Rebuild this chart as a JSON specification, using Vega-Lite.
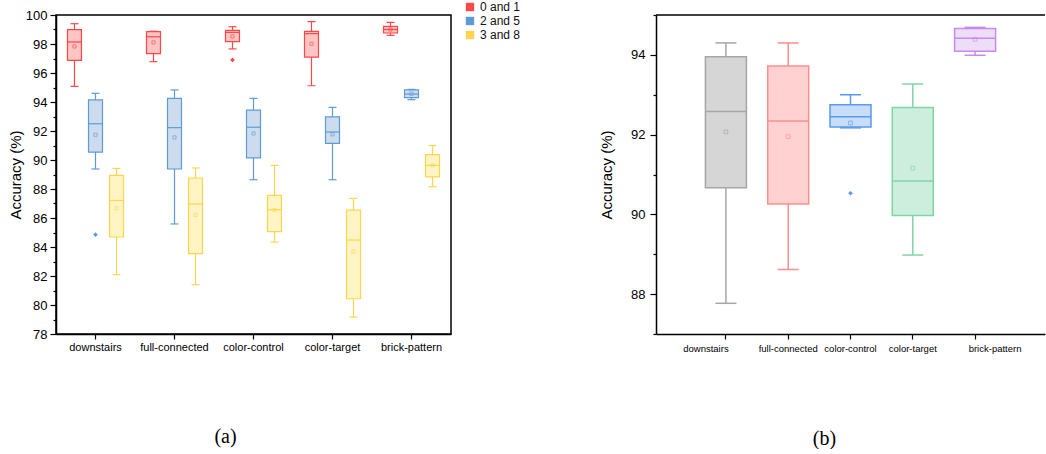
{
  "$schema": "https://vega.github.io/schema/vega-lite/v6.json",
  "padding": {"left": 7, "top": 0, "right": 0, "bottom": 0},
  "spacing": 77,
  "resolve": {"scale": {"color": "independent", "fill": "independent", "stroke": "independent", "x": "independent", "y": "independent"}},
  "config": {
    "font": "Liberation Sans",
    "view": {"stroke": null},
    "axis": {"domainColor": "#000", "domainWidth": 1.5, "tickColor": "#000", "tickWidth": 1.2, "labelColor": "#000", "titleColor": "#000", "grid": false, "titleFontWeight": "normal", "labelOverlap": false}
  },
  "datasets": {
    "a": [
      {"category": "downstairs", "pair": "0 and 1", "min": 95.08, "q1": 96.87, "median": 98.14, "q3": 98.99, "max": 99.4, "mean": 97.83},
      {"category": "downstairs", "pair": "2 and 5", "min": 89.38, "q1": 90.55, "median": 92.5, "q3": 94.14, "max": 94.6, "mean": 91.74},
      {"category": "downstairs", "pair": "3 and 8", "min": 82.09, "q1": 84.69, "median": 87.21, "q3": 88.94, "max": 89.42, "mean": 86.66},
      {"category": "full-connected", "pair": "0 and 1", "min": 96.78, "q1": 97.33, "median": 98.5, "q3": 98.85, "max": 98.88, "mean": 98.11},
      {"category": "full-connected", "pair": "2 and 5", "min": 85.59, "q1": 89.38, "median": 92.23, "q3": 94.25, "max": 94.83, "mean": 91.56},
      {"category": "full-connected", "pair": "3 and 8", "min": 81.4, "q1": 83.54, "median": 86.97, "q3": 88.76, "max": 89.45, "mean": 86.21},
      {"category": "color-control", "pair": "0 and 1", "min": 97.66, "q1": 98.16, "median": 98.8, "q3": 98.94, "max": 99.19, "mean": 98.52},
      {"category": "color-control", "pair": "2 and 5", "min": 88.64, "q1": 90.15, "median": 92.26, "q3": 93.44, "max": 94.25, "mean": 91.83},
      {"category": "color-control", "pair": "3 and 8", "min": 84.34, "q1": 85.06, "median": 86.57, "q3": 87.56, "max": 89.63, "mean": 86.55},
      {"category": "color-target", "pair": "0 and 1", "min": 95.12, "q1": 97.1, "median": 98.71, "q3": 98.87, "max": 99.54, "mean": 98.02},
      {"category": "color-target", "pair": "2 and 5", "min": 88.64, "q1": 91.14, "median": 91.93, "q3": 92.97, "max": 93.63, "mean": 91.77},
      {"category": "color-target", "pair": "3 and 8", "min": 79.17, "q1": 80.43, "median": 84.48, "q3": 86.55, "max": 87.35, "mean": 83.7},
      {"category": "brick-pattern", "pair": "0 and 1", "min": 98.6, "q1": 98.76, "median": 99.0, "q3": 99.21, "max": 99.49, "mean": 99.0},
      {"category": "brick-pattern", "pair": "2 and 5", "min": 94.16, "q1": 94.3, "median": 94.55, "q3": 94.83, "max": 94.87, "mean": 94.57},
      {"category": "brick-pattern", "pair": "3 and 8", "min": 88.16, "q1": 88.83, "median": 89.63, "q3": 90.37, "max": 91.0, "mean": 89.63}
    ],
    "a_out": [
      {"category": "downstairs", "pair": "2 and 5", "value": 84.85},
      {"category": "color-control", "pair": "0 and 1", "value": 96.9}
    ],
    "b": [
      {"category": "downstairs", "min": 87.77, "q1": 90.67, "median": 92.58, "q3": 93.95, "max": 94.3, "mean": 92.07},
      {"category": "full-connected", "min": 88.62, "q1": 90.26, "median": 92.34, "q3": 93.72, "max": 94.3, "mean": 91.95},
      {"category": "color-control", "min": 92.17, "q1": 92.19, "median": 92.45, "q3": 92.75, "max": 93.0, "mean": 92.29},
      {"category": "color-target", "min": 88.98, "q1": 89.97, "median": 90.84, "q3": 92.68, "max": 93.27, "mean": 91.16},
      {"category": "brick-pattern", "min": 93.99, "q1": 94.09, "median": 94.42, "q3": 94.66, "max": 94.69, "mean": 94.39}
    ],
    "b_out": [
      {"category": "color-control", "value": 90.53}
    ]
  },
  "hconcat": [
    {
      "width": 395,
      "height": 319,
      "view": {"stroke": "#000", "strokeWidth": 1.5},
      "title": {"text": "(a)", "orient": "bottom", "anchor": "middle", "font": "Liberation Serif", "fontSize": 20, "fontWeight": "normal", "color": "#000", "offset": 75, "dx": -28},
      "data": {"name": "a"},
      "encoding": {
        "x": {"field": "category", "type": "nominal", "sort": ["downstairs", "full-connected", "color-control", "color-target", "brick-pattern"], "scale": {"paddingInner": 0, "paddingOuter": 0}, "axis": {"title": null, "labelAngle": 0, "labelFontSize": 11, "tickSize": 5, "labelPadding": 2}},
        "xOffset": {"field": "pair", "type": "nominal", "sort": ["0 and 1", "2 and 5", "3 and 8"], "scale": {"paddingInner": 0, "paddingOuter": 0.38}}
      },
      "layer": [
        {
          "mark": {"type": "rule", "strokeWidth": 1.2},
          "encoding": {
            "y": {"field": "min", "type": "quantitative", "title": "Accuracy (%)", "scale": {"domain": [78, 100], "nice": false, "zero": false},
              "axis": {"values": [78, 79, 80, 81, 82, 83, 84, 85, 86, 87, 88, 89, 90, 91, 92, 93, 94, 95, 96, 97, 98, 99, 100], "labelOverlap": false, "labelExpr": "datum.value % 2 === 0 ? datum.label : ''", "tickSize": {"condition": {"test": "datum.value % 2 !== 0", "value": 3}, "value": 6}, "labelFontSize": 13, "titleFontSize": 15, "labelPadding": 3, "titlePadding": 2}},
            "y2": {"field": "max"},
            "stroke": {"field": "pair", "type": "nominal", "scale": {"domain": ["0 and 1", "2 and 5", "3 and 8"], "range": ["#FF4747", "#5E9BD4", "#FFD54F"]}, "legend": null}
          }
        },
        {
          "mark": {"type": "bar", "size": 14, "strokeWidth": 1.2},
          "encoding": {
            "y": {"field": "q1", "type": "quantitative", "title": "Accuracy (%)", "scale": {"domain": [78, 100], "nice": false, "zero": false},
              "axis": {"values": [78, 79, 80, 81, 82, 83, 84, 85, 86, 87, 88, 89, 90, 91, 92, 93, 94, 95, 96, 97, 98, 99, 100], "labelOverlap": false, "labelExpr": "datum.value % 2 === 0 ? datum.label : ''", "tickSize": {"condition": {"test": "datum.value % 2 !== 0", "value": 3}, "value": 6}, "labelFontSize": 13, "titleFontSize": 15, "labelPadding": 3, "titlePadding": 2}},
            "y2": {"field": "q3"},
            "fill": {"field": "pair", "type": "nominal", "scale": {"domain": ["0 and 1", "2 and 5", "3 and 8"], "range": ["#FFC4C4", "#CCDCEE", "#FFF4C4"]}, "legend": null},
            "stroke": {"field": "pair", "type": "nominal", "scale": {"domain": ["0 and 1", "2 and 5", "3 and 8"], "range": ["#FF4747", "#5E9BD4", "#FFD54F"]}, "legend": null}
          }
        },
        {
          "mark": {"type": "tick", "size": 8, "thickness": 1.2, "opacity": 1},
          "encoding": {
            "y": {"field": "max", "type": "quantitative", "title": "Accuracy (%)", "scale": {"domain": [78, 100], "nice": false, "zero": false},
              "axis": {"values": [78, 79, 80, 81, 82, 83, 84, 85, 86, 87, 88, 89, 90, 91, 92, 93, 94, 95, 96, 97, 98, 99, 100], "labelOverlap": false, "labelExpr": "datum.value % 2 === 0 ? datum.label : ''", "tickSize": {"condition": {"test": "datum.value % 2 !== 0", "value": 3}, "value": 6}, "labelFontSize": 13, "titleFontSize": 15, "labelPadding": 3, "titlePadding": 2}},
            "color": {"field": "pair", "type": "nominal", "sort": ["0 and 1", "2 and 5", "3 and 8"], "scale": {"range": ["#FF4747", "#5E9BD4", "#FFD54F"]}, "legend": {"title": null, "orient": "none", "legendX": 408, "legendY": -14, "symbolType": "square", "symbolSize": 70, "labelFontSize": 12, "rowPadding": 2, "symbolStrokeWidth": 0, "labelColor": "#111", "symbolOpacity": 1}}
          }
        },
        {
          "mark": {"type": "tick", "size": 8, "thickness": 1.2, "opacity": 1},
          "encoding": {
            "y": {"field": "min", "type": "quantitative", "title": "Accuracy (%)", "scale": {"domain": [78, 100], "nice": false, "zero": false},
              "axis": {"values": [78, 79, 80, 81, 82, 83, 84, 85, 86, 87, 88, 89, 90, 91, 92, 93, 94, 95, 96, 97, 98, 99, 100], "labelOverlap": false, "labelExpr": "datum.value % 2 === 0 ? datum.label : ''", "tickSize": {"condition": {"test": "datum.value % 2 !== 0", "value": 3}, "value": 6}, "labelFontSize": 13, "titleFontSize": 15, "labelPadding": 3, "titlePadding": 2}},
            "color": {"field": "pair", "type": "nominal", "sort": ["0 and 1", "2 and 5", "3 and 8"], "scale": {"range": ["#FF4747", "#5E9BD4", "#FFD54F"]}, "legend": {"title": null, "orient": "none", "legendX": 408, "legendY": -14, "symbolType": "square", "symbolSize": 70, "labelFontSize": 12, "rowPadding": 2, "symbolStrokeWidth": 0, "labelColor": "#111", "symbolOpacity": 1}}
          }
        },
        {
          "mark": {"type": "tick", "size": 14, "thickness": 1.2, "opacity": 1},
          "encoding": {
            "y": {"field": "median", "type": "quantitative", "title": "Accuracy (%)", "scale": {"domain": [78, 100], "nice": false, "zero": false},
              "axis": {"values": [78, 79, 80, 81, 82, 83, 84, 85, 86, 87, 88, 89, 90, 91, 92, 93, 94, 95, 96, 97, 98, 99, 100], "labelOverlap": false, "labelExpr": "datum.value % 2 === 0 ? datum.label : ''", "tickSize": {"condition": {"test": "datum.value % 2 !== 0", "value": 3}, "value": 6}, "labelFontSize": 13, "titleFontSize": 15, "labelPadding": 3, "titlePadding": 2}},
            "color": {"field": "pair", "type": "nominal", "sort": ["0 and 1", "2 and 5", "3 and 8"], "scale": {"range": ["#FF4747", "#5E9BD4", "#FFD54F"]}, "legend": {"title": null, "orient": "none", "legendX": 408, "legendY": -14, "symbolType": "square", "symbolSize": 70, "labelFontSize": 12, "rowPadding": 2, "symbolStrokeWidth": 0, "labelColor": "#111", "symbolOpacity": 1}}
          }
        },
        {
          "mark": {"type": "point", "shape": "square", "filled": false, "size": 10, "strokeWidth": 0.8, "opacity": 0.8},
          "encoding": {
            "y": {"field": "mean", "type": "quantitative", "title": "Accuracy (%)", "scale": {"domain": [78, 100], "nice": false, "zero": false},
              "axis": {"values": [78, 79, 80, 81, 82, 83, 84, 85, 86, 87, 88, 89, 90, 91, 92, 93, 94, 95, 96, 97, 98, 99, 100], "labelOverlap": false, "labelExpr": "datum.value % 2 === 0 ? datum.label : ''", "tickSize": {"condition": {"test": "datum.value % 2 !== 0", "value": 3}, "value": 6}, "labelFontSize": 13, "titleFontSize": 15, "labelPadding": 3, "titlePadding": 2}},
            "stroke": {"field": "pair", "type": "nominal", "scale": {"domain": ["0 and 1", "2 and 5", "3 and 8"], "range": ["#FF4747", "#5E9BD4", "#FFD54F"]}, "legend": null}
          }
        },
        {
          "data": {"name": "a_out"},
          "mark": {"type": "point", "shape": "diamond", "filled": true, "size": 22, "opacity": 1},
          "encoding": {
            "y": {"field": "value", "type": "quantitative", "title": "Accuracy (%)", "scale": {"domain": [78, 100], "nice": false, "zero": false},
              "axis": {"values": [78, 79, 80, 81, 82, 83, 84, 85, 86, 87, 88, 89, 90, 91, 92, 93, 94, 95, 96, 97, 98, 99, 100], "labelOverlap": false, "labelExpr": "datum.value % 2 === 0 ? datum.label : ''", "tickSize": {"condition": {"test": "datum.value % 2 !== 0", "value": 3}, "value": 6}, "labelFontSize": 13, "titleFontSize": 15, "labelPadding": 3, "titlePadding": 2}},
            "color": {"field": "pair", "type": "nominal", "sort": ["0 and 1", "2 and 5", "3 and 8"], "scale": {"range": ["#FF4747", "#5E9BD4", "#FFD54F"]}, "legend": {"title": null, "orient": "none", "legendX": 408, "legendY": -14, "symbolType": "square", "symbolSize": 70, "labelFontSize": 12, "rowPadding": 2, "symbolStrokeWidth": 0, "labelColor": "#111", "symbolOpacity": 1}}
          }
        }
      ]
    },
    {
      "width": 389,
      "height": 319,
      "title": {"text": "(b)", "orient": "bottom", "anchor": "middle", "font": "Liberation Serif", "fontSize": 20, "fontWeight": "normal", "color": "#000", "offset": 76, "dx": -26},
      "layer": [
        {
          "data": {"name": "b"},
          "encoding": {
            "x": {"field": "category", "type": "nominal", "sort": ["downstairs", "full-connected", "color-control", "color-target", "brick-pattern"], "scale": {"paddingInner": 0, "paddingOuter": 0.6225},
              "axis": {"title": null, "labelAngle": 0, "labelFontSize": 9.5, "tickSize": 5, "labelPadding": 4, "labelOffset": {"condition": [{"test": "datum.value === 'downstairs'", "value": -20}, {"test": "datum.value === 'brick-pattern'", "value": 20}], "value": 0}}}
          },
          "layer": [
            {
              "mark": {"type": "rule", "strokeWidth": 1.5},
              "encoding": {
                "y": {"field": "min", "type": "quantitative", "title": "Accuracy (%)", "scale": {"domain": [87, 95], "nice": false, "zero": false},
                  "axis": {"values": [87, 88, 89, 90, 91, 92, 93, 94, 95], "labelOverlap": false, "labelExpr": "datum.value % 2 === 0 ? datum.label : ''", "tickSize": {"condition": {"test": "datum.value % 2 !== 0", "value": 3}, "value": 6}, "labelFontSize": 13, "titleFontSize": 15, "labelPadding": 5, "titlePadding": 16}},
                "y2": {"field": "max"},
                "stroke": {"field": "category", "type": "nominal", "scale": {"domain": ["downstairs", "full-connected", "color-control", "color-target", "brick-pattern"], "range": ["#A6A6A6", "#FF8E8E", "#5A9BEB", "#7FD6A4", "#C98AEB"]}, "legend": null}
              }
            },
            {
              "mark": {"type": "bar", "size": 41, "strokeWidth": 1.5},
              "encoding": {
                "y": {"field": "q1", "type": "quantitative", "title": "Accuracy (%)", "scale": {"domain": [87, 95], "nice": false, "zero": false},
                  "axis": {"values": [87, 88, 89, 90, 91, 92, 93, 94, 95], "labelOverlap": false, "labelExpr": "datum.value % 2 === 0 ? datum.label : ''", "tickSize": {"condition": {"test": "datum.value % 2 !== 0", "value": 3}, "value": 6}, "labelFontSize": 13, "titleFontSize": 15, "labelPadding": 5, "titlePadding": 16}},
                "y2": {"field": "q3"},
                "fill": {"field": "category", "type": "nominal", "scale": {"domain": ["downstairs", "full-connected", "color-control", "color-target", "brick-pattern"], "range": ["#D6D6D6", "#FFD1D1", "#C8DDFA", "#CDEEDD", "#EEDDF7"]}, "legend": null},
                "stroke": {"field": "category", "type": "nominal", "scale": {"domain": ["downstairs", "full-connected", "color-control", "color-target", "brick-pattern"], "range": ["#A6A6A6", "#FF8E8E", "#5A9BEB", "#7FD6A4", "#C98AEB"]}, "legend": null}
              }
            },
            {
              "mark": {"type": "tick", "size": 21, "thickness": 1.5, "opacity": 1},
              "encoding": {
                "y": {"field": "max", "type": "quantitative", "title": "Accuracy (%)", "scale": {"domain": [87, 95], "nice": false, "zero": false},
                  "axis": {"values": [87, 88, 89, 90, 91, 92, 93, 94, 95], "labelOverlap": false, "labelExpr": "datum.value % 2 === 0 ? datum.label : ''", "tickSize": {"condition": {"test": "datum.value % 2 !== 0", "value": 3}, "value": 6}, "labelFontSize": 13, "titleFontSize": 15, "labelPadding": 5, "titlePadding": 16}},
                "color": {"field": "category", "type": "nominal", "scale": {"domain": ["downstairs", "full-connected", "color-control", "color-target", "brick-pattern"], "range": ["#A6A6A6", "#FF8E8E", "#5A9BEB", "#7FD6A4", "#C98AEB"]}, "legend": null}
              }
            },
            {
              "mark": {"type": "tick", "size": 21, "thickness": 1.5, "opacity": 1},
              "encoding": {
                "y": {"field": "min", "type": "quantitative", "title": "Accuracy (%)", "scale": {"domain": [87, 95], "nice": false, "zero": false},
                  "axis": {"values": [87, 88, 89, 90, 91, 92, 93, 94, 95], "labelOverlap": false, "labelExpr": "datum.value % 2 === 0 ? datum.label : ''", "tickSize": {"condition": {"test": "datum.value % 2 !== 0", "value": 3}, "value": 6}, "labelFontSize": 13, "titleFontSize": 15, "labelPadding": 5, "titlePadding": 16}},
                "color": {"field": "category", "type": "nominal", "scale": {"domain": ["downstairs", "full-connected", "color-control", "color-target", "brick-pattern"], "range": ["#A6A6A6", "#FF8E8E", "#5A9BEB", "#7FD6A4", "#C98AEB"]}, "legend": null}
              }
            },
            {
              "mark": {"type": "tick", "size": 41, "thickness": 1.5, "opacity": 1},
              "encoding": {
                "y": {"field": "median", "type": "quantitative", "title": "Accuracy (%)", "scale": {"domain": [87, 95], "nice": false, "zero": false},
                  "axis": {"values": [87, 88, 89, 90, 91, 92, 93, 94, 95], "labelOverlap": false, "labelExpr": "datum.value % 2 === 0 ? datum.label : ''", "tickSize": {"condition": {"test": "datum.value % 2 !== 0", "value": 3}, "value": 6}, "labelFontSize": 13, "titleFontSize": 15, "labelPadding": 5, "titlePadding": 16}},
                "color": {"field": "category", "type": "nominal", "scale": {"domain": ["downstairs", "full-connected", "color-control", "color-target", "brick-pattern"], "range": ["#A6A6A6", "#FF8E8E", "#5A9BEB", "#7FD6A4", "#C98AEB"]}, "legend": null}
              }
            },
            {
              "mark": {"type": "point", "shape": "square", "filled": false, "size": 14, "strokeWidth": 0.8, "opacity": 0.8},
              "encoding": {
                "y": {"field": "mean", "type": "quantitative", "title": "Accuracy (%)", "scale": {"domain": [87, 95], "nice": false, "zero": false},
                  "axis": {"values": [87, 88, 89, 90, 91, 92, 93, 94, 95], "labelOverlap": false, "labelExpr": "datum.value % 2 === 0 ? datum.label : ''", "tickSize": {"condition": {"test": "datum.value % 2 !== 0", "value": 3}, "value": 6}, "labelFontSize": 13, "titleFontSize": 15, "labelPadding": 5, "titlePadding": 16}},
                "stroke": {"field": "category", "type": "nominal", "scale": {"domain": ["downstairs", "full-connected", "color-control", "color-target", "brick-pattern"], "range": ["#A6A6A6", "#FF8E8E", "#5A9BEB", "#7FD6A4", "#C98AEB"]}, "legend": null}
              }
            },
            {
              "data": {"name": "b_out"},
              "mark": {"type": "point", "shape": "diamond", "filled": true, "size": 22, "opacity": 1},
              "encoding": {
                "y": {"field": "value", "type": "quantitative", "title": "Accuracy (%)", "scale": {"domain": [87, 95], "nice": false, "zero": false},
                  "axis": {"values": [87, 88, 89, 90, 91, 92, 93, 94, 95], "labelOverlap": false, "labelExpr": "datum.value % 2 === 0 ? datum.label : ''", "tickSize": {"condition": {"test": "datum.value % 2 !== 0", "value": 3}, "value": 6}, "labelFontSize": 13, "titleFontSize": 15, "labelPadding": 5, "titlePadding": 16}},
                "color": {"field": "category", "type": "nominal", "scale": {"domain": ["downstairs", "full-connected", "color-control", "color-target", "brick-pattern"], "range": ["#A6A6A6", "#FF8E8E", "#5A9BEB", "#7FD6A4", "#C98AEB"]}, "legend": null}
              }
            }
          ]
        },
        {
          "data": {"values": [{}]},
          "mark": {"type": "rule", "strokeWidth": 1.5, "color": "#000"},
          "encoding": {"y": {"datum": 95, "axis": {"values": [87, 88, 89, 90, 91, 92, 93, 94, 95], "labelOverlap": false, "labelExpr": "datum.value % 2 === 0 ? datum.label : ''", "tickSize": {"condition": {"test": "datum.value % 2 !== 0", "value": 3}, "value": 6}, "labelFontSize": 13, "titleFontSize": 15, "labelPadding": 5, "titlePadding": 16}, "title": "Accuracy (%)"}}
        }
      ]
    }
  ]
}
